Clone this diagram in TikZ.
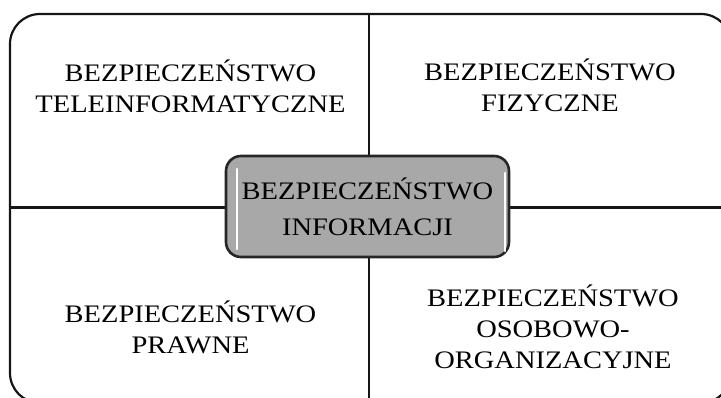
\documentclass[tikz,border=0pt]{standalone}
\usepackage{fontspec}
\setmainfont{Liberation Serif}[FakeStretch=1.13]
\definecolor{inkline}{HTML}{161616}
\definecolor{corefill}{HTML}{A8A8A8}
\definecolor{coreedge}{HTML}{262626}
\tikzset{
  frameline/.style={draw=inkline, line width=2.2pt},
  quadtext/.style={align=center, inner sep=0pt,
    font=\fontsize{25.2}{31}\selectfont},
  corebox/.style={draw=coreedge, line width=2.6pt, fill=corefill,
    rounded corners=15pt, minimum width=283pt, minimum height=101pt,
    align=center, inner sep=0pt,
    font=\fontsize{25.2}{36}\selectfont},
  gloss/.style={draw=white, line width=2.6pt, line cap=round}
}
\begin{document}
\begin{tikzpicture}[x=1pt, y=-1pt]
  \useasboundingbox (0,0) rectangle (721,398);
  \clip (0,0) rectangle (721,398);

  % outer frame (runs past the right and bottom edges)
  \draw[frameline, rounded corners=30pt] (10,14) rectangle (731,403);

  % ends of the dividing lines on the frame
  \coordinate (topmid) at (369,14);
  \coordinate (botmid) at (369,403);
  \coordinate (leftmid) at (10,207.5);
  \coordinate (rightmid) at (731,207.5);

  \draw[frameline] (topmid) -- (botmid);
  \draw[frameline] (leftmid) -- (rightmid);

  % central box
  \node[corebox] (core) at (367.5,206.5) {BEZPIECZEŃSTWO\\INFORMACJI};
  \coordinate (glossL1) at (237,169);
  \coordinate (glossL2) at (237,249);
  \coordinate (glossR1) at (505,173);
  \coordinate (glossR2) at (505,251);
  \draw[gloss] (glossL1) -- (glossL2);
  \draw[gloss] (glossR1) -- (glossR2);

  % the four quadrants
  \node[quadtext] (tele) at (190.5,86) {BEZPIECZEŃSTWO\\TELEINFORMATYCZNE};
  \node[quadtext] (fiz) at (550,85.7) {BEZPIECZEŃSTWO\\FIZYCZNE};
  \node[quadtext] (praw) at (190.5,327.7) {BEZPIECZEŃSTWO\\PRAWNE};
  \node[quadtext] (osob) at (553,327) {BEZPIECZEŃSTWO\\OSOBOWO-\\ORGANIZACYJNE};
\end{tikzpicture}
\end{document}
